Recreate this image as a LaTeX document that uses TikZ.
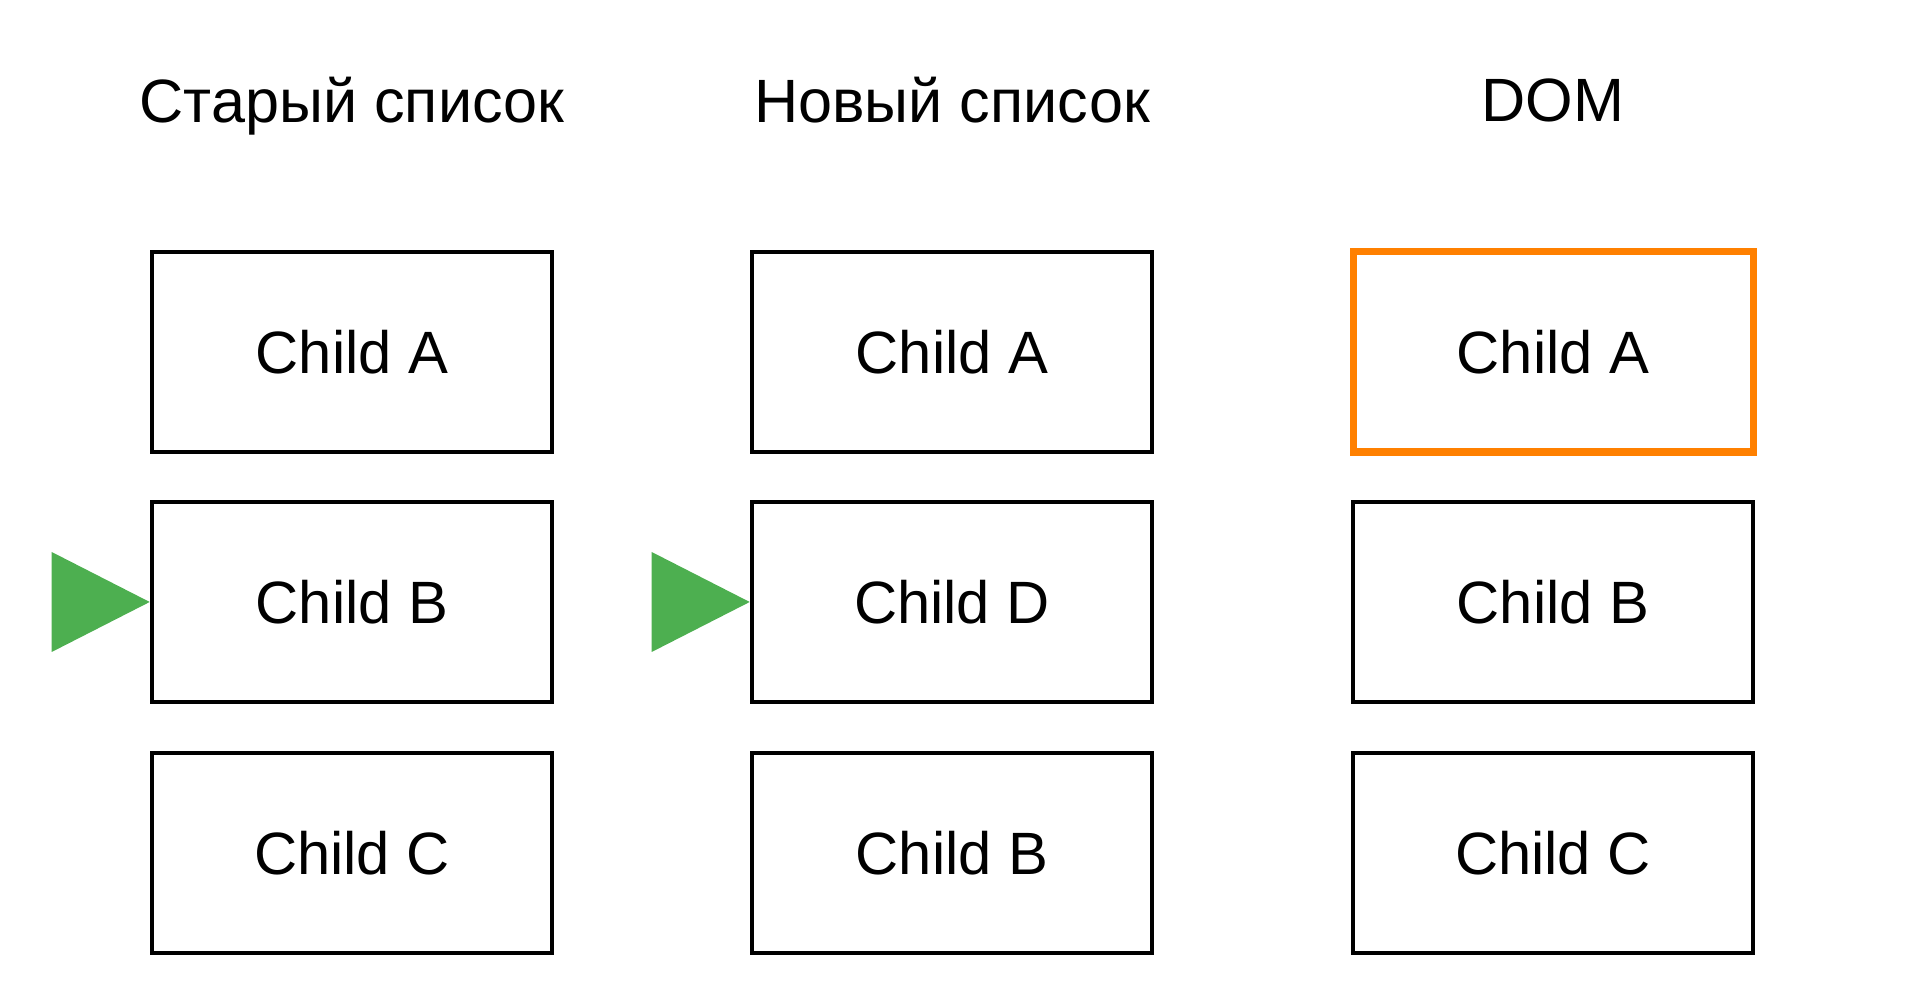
\documentclass[tikz,border=0pt]{standalone}
\usepackage{fontspec}
\setmainfont{Liberation Sans}
\usepackage{xcolor}
\usepackage{tikz}
\usetikzlibrary{shapes,positioning}
\definecolor{markgreen}{RGB}{77,175,80}
\definecolor{domorange}{RGB}{255,128,0}
\tikzset{item/.style={rectangle,draw,line width=1.3pt,minimum width=4cm,minimum height=2cm,font=\fontsize{17}{20}\selectfont}}
\tikzset{head/.style={font=\fontsize{17.4}{20}\selectfont,inner sep=0pt}}
\tikzset{changed/.style={draw=domorange,line width=2pt}}

\begin{document}
\begin{tikzpicture}
    \useasboundingbox (0,0) rectangle (19.05,10.05);

    \node[item] (oldA)at (3.52,6.53) {Child A};
    \node[item] (oldB)at (3.52,4.03) {Child B};
    \node[item] (oldC)at (3.52,1.52) {Child C};

    \node[item] (newA)at (9.52,6.53) {Child A};
    \node[item] (newD)at (9.52,4.03) {Child D};
    \node[item] (newB)at (9.52,1.52) {Child B};

    \node[item,changed] (domA)at (15.53,6.53) {Child A};
    \node[item] (domB)at (15.53,4.03) {Child B};
    \node[item] (domC)at (15.53,1.52) {Child C};

    \node[head,above=1.27cm of oldA.north,anchor=base] (oldT) {Старый список};
    \node[head,above=1.27cm of newA.north,anchor=base] (newT) {Новый список};
    \node[head,above=1.27cm of domA.north,anchor=base] (domT) {DOM};

    \fill[markgreen] (oldB.west) -- ++(-0.98,0.5) -- ++(0,-1) -- cycle;
    \fill[markgreen] (newD.west) -- ++(-0.98,0.5) -- ++(0,-1) -- cycle;
\end{tikzpicture}
\end{document}
